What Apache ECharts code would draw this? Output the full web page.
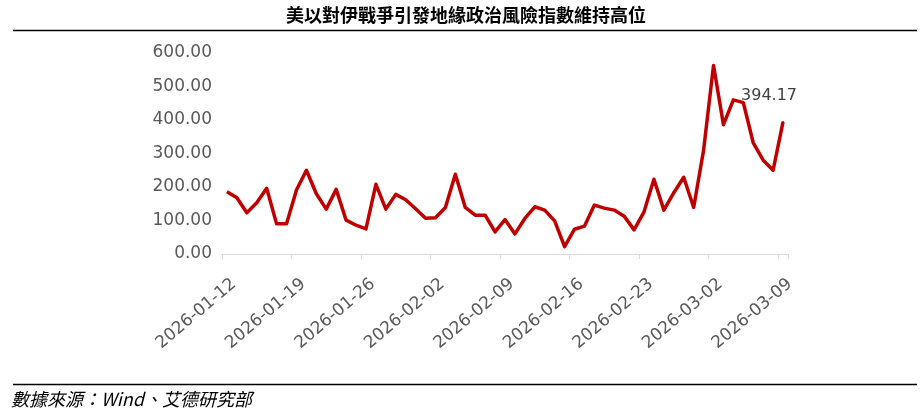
<!DOCTYPE html>
<html><head><meta charset="utf-8">
<script src="https://cdn.jsdelivr.net/npm/echarts@6/dist/echarts.min.js"></script>
<style>html,body{margin:0;padding:0;background:#fff}#c{width:924px;height:416px}</style>
</head><body><div id="c"></div>
<script>
const titleText = '美以對伊戰爭引發地緣政治風險指數維持高位';
const sourceText = '數據來源：Wind、艾德研究部';
const dates = [
  '2026-01-12','2026-01-13','2026-01-14','2026-01-15','2026-01-16','2026-01-17','2026-01-18',
  '2026-01-19','2026-01-20','2026-01-21','2026-01-22','2026-01-23','2026-01-24','2026-01-25',
  '2026-01-26','2026-01-27','2026-01-28','2026-01-29','2026-01-30','2026-01-31','2026-02-01',
  '2026-02-02','2026-02-03','2026-02-04','2026-02-05','2026-02-06','2026-02-07','2026-02-08',
  '2026-02-09','2026-02-10','2026-02-11','2026-02-12','2026-02-13','2026-02-14','2026-02-15',
  '2026-02-16','2026-02-17','2026-02-18','2026-02-19','2026-02-20','2026-02-21','2026-02-22',
  '2026-02-23','2026-02-24','2026-02-25','2026-02-26','2026-02-27','2026-02-28','2026-03-01',
  '2026-03-02','2026-03-03','2026-03-04','2026-03-05','2026-03-06','2026-03-07','2026-03-08',
  '2026-03-09'
];
const riskIndex = [
  186, 168, 123, 153, 196, 90, 90,
  191, 250, 180, 134, 193, 101, 86,
  75, 208, 134, 178, 162, 135, 107,
  108, 139, 238, 139, 116, 116, 66,
  103, 60, 106, 141, 131, 99, 22,
  74, 83, 146, 137, 131, 113, 72,
  126, 223, 131, 183, 229, 139, 310,
  563, 386, 460, 452, 332, 280, 250,
  394.17
];
const yMin = 0, yMax = 600, yStep = 100;
const lastLabel = '394.17';

const labelFont = 'DejaVu Sans';
const seriesData = riskIndex.map(function (v, i) {
  if (i === riskIndex.length - 1) {
    return {
      value: v, symbol: 'circle', symbolSize: 2,
      itemStyle: { color: '#c00000' },
      label: { show: true, position: 'top', distance: 0, offset: [-14, -17],
        formatter: lastLabel, color: '#404040', fontSize: 16, fontFamily: labelFont }
    };
  }
  return v;
});

const chart = echarts.init(document.getElementById('c'), null, { renderer: 'canvas' });
chart.setOption({
  animation: false,
  backgroundColor: '#fff',
  grid: [
    { left: 222, right: 136, top: 53, bottom: 162 },
    { left: 229, right: 129, top: 53, bottom: 162 }
  ],
  xAxis: [
    { gridIndex: 0, type: 'category', data: dates, boundaryGap: true,
      axisLine: { lineStyle: { color: '#d9d9d9', width: 1 } },
      axisTick: { show: true, interval: 6, length: 5, lineStyle: { color: '#d9d9d9' } },
      axisLabel: { show: false }, splitLine: { show: false } },
    { gridIndex: 1, type: 'category', data: dates, boundaryGap: true,
      axisLine: { show: false }, axisTick: { show: false }, splitLine: { show: false },
      axisLabel: { interval: 6, rotate: 40, margin: 28, fontSize: 17, color: '#595959', fontFamily: labelFont } }
  ],
  yAxis: [
    { gridIndex: 0, type: 'value', min: yMin, max: yMax, interval: yStep,
      axisLine: { show: false }, axisTick: { show: false }, splitLine: { show: false },
      axisLabel: { margin: 10, fontSize: 17, color: '#595959', fontFamily: labelFont,
        formatter: function (v) { return v.toFixed(2); } } },
    { gridIndex: 1, type: 'value', min: yMin, max: yMax, show: false, splitLine: { show: false } }
  ],
  series: [{
    type: 'line', xAxisIndex: 0, yAxisIndex: 0, data: seriesData,
    symbol: 'none', showSymbol: true,
    lineStyle: { color: '#c00000', width: 3.5, join: 'round' },
    itemStyle: { color: '#c00000' }
  }],
  graphic: [
    { type: 'text', x: 466, y: 15, style: { text: titleText, align: 'center', verticalAlign: 'middle',
      font: 'bold 18px "Noto Sans CJK TC"', fill: '#000' } },
    { type: 'line', shape: { x1: 13, y1: 30.5, x2: 917, y2: 30.5 }, style: { stroke: '#000', lineWidth: 1.5 } },
    { type: 'line', shape: { x1: 13, y1: 384.5, x2: 917, y2: 384.5 }, style: { stroke: '#000', lineWidth: 1.5 } },
    { type: 'text', x: 11, y: 399, style: { text: sourceText, align: 'left', verticalAlign: 'middle',
      font: 'italic 18px "Noto Sans CJK TC"', fill: '#000' } }
  ]
});
</script></body></html>
